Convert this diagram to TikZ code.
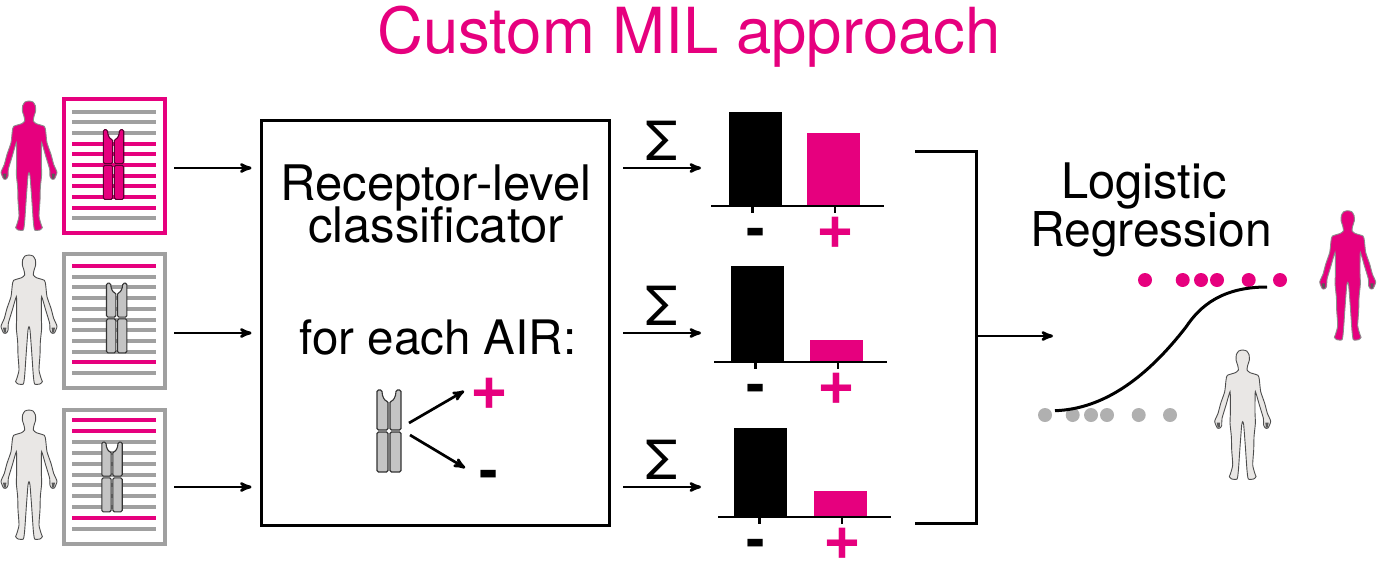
\documentclass[tikz,border=0pt]{standalone}
\usepackage{fontspec}
\setmainfont{TeX Gyre Heros}
\usepackage{tikz}
\usetikzlibrary{arrows}
\definecolor{airpink}{HTML}{E6007E}
\definecolor{airgrey}{HTML}{A0A0A0}
\definecolor{dotgrey}{HTML}{B0B0B0}
\definecolor{skin}{HTML}{E9E7E5}
\definecolor{chain}{HTML}{C4C4C4}
\tikzset{
  bodytext/.style={font=\fontsize{#1}{#1}\selectfont,anchor=base,inner sep=0pt},
  minussign/.style={font=\fontsize{56}{56}\selectfont\bfseries,anchor=base,inner sep=0pt},
  plussign/.style={font=\fontsize{65}{65}\selectfont\bfseries,anchor=base,inner sep=0pt,text=airpink},
  link/.style={->,line width=2.7pt,shorten >=1pt},
  sheet/.style={draw=#1,line width=4pt,minimum width=101.5pt,minimum height=134pt,inner sep=0pt},
  pics/person/.style 2 args={code={
    \draw[fill=#1,draw=#2,line width=.9pt,scale=1/3] plot[smooth cycle,tension=.35] coordinates {
      (0,0) (12,3) (19,14) (20,30) (15,46) (13,60) (22,68) (46,76) (50,90) (54,125) (66,160)
      (74,190) (84,214) (76,234) (68,234) (63,226) (62,205) (50,165) (38,125) (37,160) (37,190)
      (38,220) (34,260) (33,300) (30,345) (37,372) (40,380) (33,387) (17,387) (13,362) (8,290) (3,225) (0,215)
      (-3,225) (-8,290) (-13,362) (-17,387) (-33,387) (-40,380) (-37,372) (-30,345) (-33,300) (-34,260)
      (-38,220) (-37,190) (-37,160) (-38,125) (-50,165) (-62,205) (-63,226) (-68,234) (-76,234) (-84,214)
      (-74,190) (-66,160) (-54,125) (-50,90) (-46,76) (-22,68) (-13,60) (-15,46) (-20,30)
      (-19,14) (-12,3)};
    \fill[black!65,scale=1/3] (68,218) -- (78,218) -- (75,233) -- (69,233) -- cycle
      (-68,218) -- (-78,218) -- (-75,233) -- (-69,233) -- cycle;
  }},
  pics/receptor/.style 2 args={code={
    \draw[fill=#1,draw=#2,line width=1.1pt,rounded corners=1.5pt]
      (-12,-41) -- (-7,-41) .. controls (-7,-34) and (-4,-30) .. (-1,-30) -- (-1,-1) -- (-12,-1) -- cycle;
    \draw[fill=#1,draw=#2,line width=1.1pt,rounded corners=1.5pt]
      (12,-41) -- (7,-41) .. controls (7,-34) and (4,-30) .. (1,-30) -- (1,-1) -- (12,-1) -- cycle;
    \draw[fill=#1,draw=#2,line width=1.1pt,rounded corners=1.5pt] (-12,1) rectangle (-1,41);
    \draw[fill=#1,draw=#2,line width=1.1pt,rounded corners=1.5pt] (1,1) rectangle (12,41);
  }}
}
\begin{document}
\begin{tikzpicture}[x=1pt,y=-1pt,>=stealth']
  \useasboundingbox (0,0) rectangle (1377,582);
  \node[bodytext=63.5,text=airpink] (title) at (689,53) {Custom MIL approach};

  % input sheets
  \node[sheet=airpink] (doc1) at (114.25,166) {};
  \node[sheet=airgrey] (doc2) at (114.25,320.5) {};
  \node[sheet=airgrey] (doc3) at (114.25,476.5) {};
  \foreach \i in {0,...,10} {
    \pgfmathtruncatemacro{\pinkA}{\i>2 && \i<10}
    \pgfmathtruncatemacro{\pinkB}{\i==0 || \i==9}
    \pgfmathtruncatemacro{\pinkC}{\i<2 || \i==9}
    \ifnum\pinkA=1 \def\colA{airpink}\else\def\colA{airgrey}\fi
    \ifnum\pinkB=1 \def\colB{airpink}\else\def\colB{airgrey}\fi
    \ifnum\pinkC=1 \def\colC{airpink}\else\def\colC{airgrey}\fi
    \draw[\colA,line width=4pt] (72,111.7+\i*10.66) -- (156,111.7+\i*10.66);
    \draw[\colB,line width=4pt] (72,266+\i*10.7) -- (156,266+\i*10.7);
    \draw[\colC,line width=4pt] (72,420+\i*10.9) -- (156,420+\i*10.9);
  }
  \pic[scale=.85] at (113.5,164.5) {receptor={airpink}{black!60!airpink}};
  \pic[scale=.85] at (116.7,318) {receptor={chain}{black!80}};
  \pic[scale=.85] at (112,477) {receptor={chain}{black!80}};
  \pic at (29,101) {person={airpink}{black!45}};
  \pic at (29,255) {person={skin}{black!70}};
  \pic at (29,410) {person={skin}{black!70}};

  % classifier
  \node[draw,line width=3pt,minimum width=348pt,minimum height=405pt,inner sep=0pt] (clf) at (435,322.5) {};
  \node[bodytext=49,anchor=center,align=center] (recep) at (436,203.75) {Receptor-level\\[-7pt]classificator};
  \node[bodytext=47.5] (air) at (438,354) {for each AIR:};
  \pic at (389,431) {receptor={chain}{black!80}};
  \coordinate (fork1) at (409,423);
  \coordinate (fork2) at (410,435);
  \node[plussign] (plusc) at (489,409.25) {+};
  \node[minussign] (minusc) at (489,489.5) {-};
  \draw[link] (fork1) -- (465,390.5);
  \draw[link] (fork2) -- (466,468.5);

  \draw[link,shorten <=7pt,shorten >=8pt] ([yshift=-2pt]doc1.east) -- ([yshift=-2pt]doc1.east -| clf.west);
  \draw[link,shorten <=7pt,shorten >=8pt] ([yshift=-12.5pt]doc2.east) -- ([yshift=-12.5pt]doc2.east -| clf.west);
  \draw[link,shorten <=7pt,shorten >=8pt] ([yshift=-10.5pt]doc3.east) -- ([yshift=-10.5pt]doc3.east -| clf.west);

  % score bars
  \foreach \i/\sy/\ay/\ax/\bx/\by/\py/\mx/\px in {1/168/206/711/729/112/133/756/835,2/333/362/714/731/266/340/756/836,3/487/517/718/734/428/491/756/842} {
    \coordinate (out\i) at (623,\sy);
    \node[bodytext=54] (sum\i) at (662,\sy-7.5) {Σ};
    \draw[link] (out\i) -- (702,\sy);
    \fill[black] (\bx,\by) rectangle (\bx+53,\ay);
    \fill[airpink] (\ax+95.5,\py) rectangle (\ax+148.5,\ay);
    \draw[line width=1.8pt] (\ax,\ay) -- (\ax+172.5,\ay);
    \draw[line width=2.5pt] (\ax+41.5,\ay) -- (\ax+41.5,\ay+7);
    \draw[line width=2.5pt] (\ax+124,\ay) -- (\ax+124,\ay+7);
    \node[minussign] (minus\i) at (\mx,\ay+41) {-};
    \node[plussign] (plus\i) at (\px,\ay+42) {+};
  }

  % logistic regression
  \coordinate (brtop) at (915,151);
  \coordinate (brbot) at (915,523);
  \coordinate (brmid) at (976,336);
  \coordinate (lrin) at (1054,336);
  \draw[line width=3pt] (brtop) -| (brmid) |- (brbot);
  \draw[link] (brmid) -- (lrin);
  \node[bodytext=49] (logi) at (1144,198) {Logistic};
  \node[bodytext=48] (regr) at (1151,246) {Regression};
  \foreach \x in {1145,1182.7,1201,1217,1248.7,1280} \fill[airpink] (\x,280) circle (7);
  \foreach \x in {1045,1072.7,1091,1107,1138.7,1170} \fill[dotgrey] (\x,415) circle (7);
  \draw[line width=3pt] (1055,410.7) .. controls (1105,409) and (1148,376) .. (1186,327) .. controls (1200,306) and (1222,287) .. (1267,287);
  \pic at (1347.7,210.7) {person={airpink}{black!45}};
  \pic at (1242.7,350) {person={skin}{black!70}};
\end{tikzpicture}
\end{document}
